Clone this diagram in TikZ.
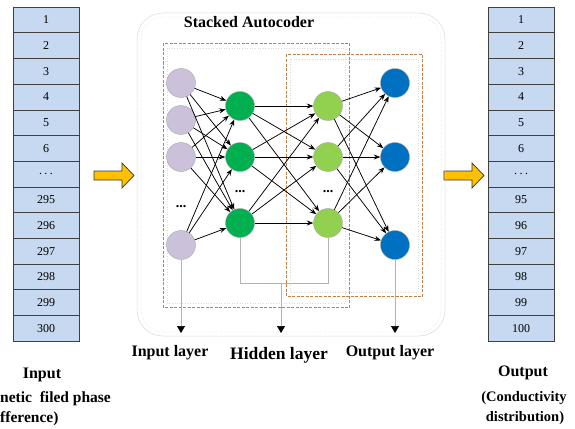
\documentclass[tikz,border=0pt]{standalone}
\usepackage{fontspec}
\setmainfont{Liberation Serif}
\usetikzlibrary{arrows.meta}
\definecolor{cellblue}{HTML}{C6D9F0}
\definecolor{inpurple}{HTML}{CCC1DA}
\definecolor{hidA}{HTML}{00B050}
\definecolor{hidB}{HTML}{92D050}
\definecolor{outblue}{HTML}{0070C0}
\definecolor{arrowyellow}{HTML}{FFC000}
\definecolor{dashbrown}{HTML}{C0804C}
\begin{document}
\begin{tikzpicture}[x=1pt,y=-1pt,
  cell/.style={draw=black!75, fill=cellblue, minimum width=66pt, minimum height=25.7pt,
    inner sep=0pt, font=\fontsize{12}{12}\selectfont, line width=0.6pt},
  neuron/.style={circle, draw=gray!70, minimum size=29pt, inner sep=0pt, line width=0.4pt},
  conn/.style={-{Stealth[length=6.5pt,width=5pt]}, line width=0.75pt, black},
  guide/.style={draw=gray!60, line width=0.7pt},
  downarrow/.style={-{Triangle[length=7pt,width=8pt,black]}, draw=gray!60, line width=0.7pt},
  bigarrow/.style={fill=arrowyellow, draw=black!80, line width=0.7pt},
  lbl/.style={font=\fontsize{16}{16}\selectfont\bfseries, inner sep=0pt},
  sublbl/.style={font=\fontsize{14.5}{14.5}\selectfont\bfseries, inner sep=0pt},
  dotsl/.style={font=\fontsize{14}{14}\selectfont\bfseries, inner sep=0pt},
  dashbox/.style={draw=dashbrown, dash pattern=on 3pt off 1.5pt, line width=1pt},
  faintdots/.style={draw=gray!30, dotted, line width=0.6pt}
]
\useasboundingbox (0,0) rectangle (575,428);

% left and right columns
\foreach \t [count=\i from 0] in {1,2,3,4,5,6,{.\hspace{2.5pt}.\hspace{2.5pt}.},295,296,297,298,299,300}
  \node[cell] (L\i) at (46,{19.85+25.7*\i}) {\t};
\foreach \t [count=\i from 0] in {1,2,3,4,5,6,{.\hspace{2.5pt}.\hspace{2.5pt}.},95,96,97,98,99,100}
  \node[cell] (R\i) at (521,{19.85+25.7*\i}) {\t};

% yellow arrows
\draw[bigarrow] (94,171) -- (122,171) -- (122,163) -- (134,175.5) -- (122,188) -- (122,180) -- (94,180) -- cycle;
\draw[bigarrow] (444,171) -- (472,171) -- (472,163) -- (484,175.5) -- (472,188) -- (472,180) -- (444,180) -- cycle;

% outer stacked autocoder frame
\draw[gray!30, line width=0.5pt, rounded corners=26pt] (137,13) rectangle (445,336);
\draw[faintdots, rounded corners=22pt] (141,17) rectangle (441,332);
\node[lbl] (title) at (249,22) {Stacked Autocoder};

% dashed autoencoder boxes
\draw[faintdots] (167,48) rectangle (345,303);
\draw[faintdots] (290,59) rectangle (418,292);
\draw[dashbox] (286.5,54.5) rectangle (422.5,296.5);
\draw[dashbox] (163.5,43.5) rectangle (349.5,307.5);

% neurons
\node[neuron, fill=inpurple] (in1) at (181,83) {};
\node[neuron, fill=inpurple] (in2) at (181,120) {};
\node[neuron, fill=inpurple] (in3) at (181,157) {};
\node[neuron, fill=inpurple] (in4) at (181,245) {};
\node[dotsl] (indots) at (181,207) {...};

\node[neuron, fill=hidA] (ha1) at (240,106) {};
\node[neuron, fill=hidA] (ha2) at (240,157) {};
\node[neuron, fill=hidA] (ha3) at (240,223) {};
\node[dotsl] (hadots) at (240,192) {...};

\node[neuron, fill=hidB] (hb1) at (328,106) {};
\node[neuron, fill=hidB] (hb2) at (328,157) {};
\node[neuron, fill=hidB] (hb3) at (328,223) {};
\node[dotsl] (hbdots) at (328,192) {...};

\node[neuron, fill=outblue] (o1) at (395,83) {};
\node[neuron, fill=outblue] (o2) at (395,157) {};
\node[neuron, fill=outblue] (o3) at (395,245) {};

% connections
\foreach \i in {1,2,3,4}
  \foreach \j in {1,2,3}
    \draw[conn] (in\i) -- (ha\j);
\foreach \i in {1,2,3}
  \foreach \j in {1,2,3}
    \draw[conn] (ha\i) -- (hb\j);
\foreach \i in {1,2,3}
  \foreach \j in {1,2,3}
    \draw[conn] (hb\i) -- (o\j);

% layer pointers
\coordinate (intip) at (181,333);
\coordinate (hidtip) at (281,333);
\coordinate (outtip) at (395,333);
\coordinate (hjL) at (240,283);
\coordinate (hjR) at (328,283);
\coordinate (hjM) at (281,283);
\draw[downarrow] (in4.south) -- (intip);
\draw[guide] (ha3.south) -- (hjL) -- (hjR) -- (hb3.south);
\draw[downarrow] (hjM) -- (hidtip);
\draw[downarrow] (o3.south) -- (outtip);

\node[lbl] (inlayer) at (170,353) {Input layer};
\node[lbl, font=\fontsize{17.5}{17.5}\selectfont\bfseries] (hidlayer) at (279,355) {Hidden layer};
\node[lbl] (outlayer) at (390,353) {Output layer};

% bottom captions
\node[lbl] (inputcap) at (42,375) {Input};
\node[sublbl, font=\fontsize{15.5}{15.5}\selectfont\bfseries, anchor=west] (inputcap2) at (0,399) {netic\ \ filed phase};
\node[sublbl, font=\fontsize{15.5}{15.5}\selectfont\bfseries, anchor=west] (inputcap3) at (0,419) {fference)};
\node[lbl] (outputcap) at (523,373) {Output};
\node[sublbl] (outputcap2) at (524,398) {(Conductivity};
\node[sublbl] (outputcap3) at (525,418) {distribution)};
\end{tikzpicture}
\end{document}
